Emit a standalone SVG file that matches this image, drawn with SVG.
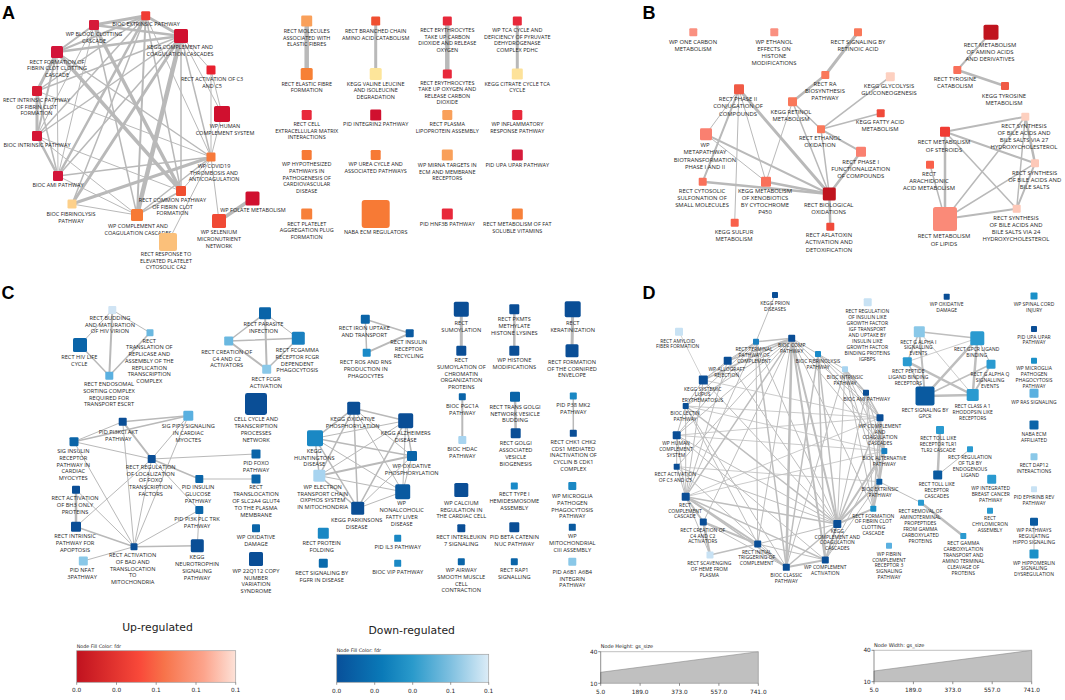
<svg xmlns="http://www.w3.org/2000/svg" width="1065" height="700" viewBox="0 0 1065 700">
<defs>
<style>
.t{font-family:"Open Sans","Liberation Sans",sans-serif;fill:#1e1e1e;text-anchor:middle}
.fa{font-size:5.5px}.fb{font-size:5.9px}.fc{font-size:5.7px}.fd{font-size:5px}
.pl{font-family:"Liberation Sans",Arial,sans-serif;font-weight:bold;font-size:18px;fill:#000}
.lg{font-family:"DejaVu Sans",sans-serif;fill:#222}
.e line{stroke:#b9b9b9;stroke-linecap:round}
.ed line{stroke:#bebebe;stroke-linecap:round}
</style>
<linearGradient id="gu" x1="0" x2="1" y1="0" y2="0">
<stop offset="0" stop-color="#c0121f"/><stop offset="0.4" stop-color="#f94a3a"/><stop offset="0.55" stop-color="#f7734a"/><stop offset="0.8" stop-color="#fca48c"/><stop offset="1" stop-color="#fde2d8"/>
</linearGradient>
<linearGradient id="gd" x1="0" x2="1" y1="0" y2="0">
<stop offset="0" stop-color="#08509a"/><stop offset="0.3" stop-color="#0a7ab8"/><stop offset="0.5" stop-color="#2a9acb"/><stop offset="0.75" stop-color="#7fc0e0"/><stop offset="1" stop-color="#dcecf7"/>
</linearGradient>
</defs>
<rect width="1065" height="700" fill="#fff"/>
<text class="pl" x="2" y="18.5">A</text>
<text class="pl" x="642.5" y="18.5">B</text>
<text class="pl" x="1.5" y="298.5">C</text>
<text class="pl" x="642.5" y="298.5">D</text>

<g id="edges-A" class="e">
<line x1="145.7" y1="15.7" x2="94" y2="25" stroke-width="3"/>
<line x1="145.7" y1="15.7" x2="181" y2="36" stroke-width="3"/>
<line x1="145.7" y1="15.7" x2="57" y2="52" stroke-width="2"/>
<line x1="145.7" y1="15.7" x2="37" y2="91" stroke-width="1.5"/>
<line x1="145.7" y1="15.7" x2="37" y2="136" stroke-width="1.5"/>
<line x1="145.7" y1="15.7" x2="58" y2="176" stroke-width="2.5"/>
<line x1="145.7" y1="15.7" x2="72" y2="204" stroke-width="1.5"/>
<line x1="145.7" y1="15.7" x2="137" y2="215" stroke-width="2"/>
<line x1="145.7" y1="15.7" x2="181" y2="191" stroke-width="1.5"/>
<line x1="145.7" y1="15.7" x2="211" y2="157" stroke-width="1"/>
<line x1="94" y1="25" x2="181" y2="36" stroke-width="2.5"/>
<line x1="94" y1="25" x2="57" y2="52" stroke-width="2"/>
<line x1="94" y1="25" x2="181" y2="191" stroke-width="3.5"/>
<line x1="94" y1="25" x2="137" y2="215" stroke-width="1.5"/>
<line x1="94" y1="25" x2="58" y2="176" stroke-width="1"/>
<line x1="94" y1="25" x2="37" y2="136" stroke-width="1"/>
<line x1="181" y1="36" x2="57" y2="52" stroke-width="2.5"/>
<line x1="181" y1="36" x2="211" y2="70" stroke-width="1"/>
<line x1="181" y1="36" x2="222" y2="114" stroke-width="1"/>
<line x1="181" y1="36" x2="211" y2="157" stroke-width="1.5"/>
<line x1="181" y1="36" x2="137" y2="215" stroke-width="4.5"/>
<line x1="181" y1="36" x2="72" y2="204" stroke-width="3"/>
<line x1="181" y1="36" x2="58" y2="176" stroke-width="1.5"/>
<line x1="181" y1="36" x2="37" y2="91" stroke-width="1.5"/>
<line x1="181" y1="36" x2="37" y2="136" stroke-width="1.5"/>
<line x1="181" y1="36" x2="181" y2="191" stroke-width="1.5"/>
<line x1="57" y1="52" x2="37" y2="91" stroke-width="3"/>
<line x1="57" y1="52" x2="37" y2="136" stroke-width="2"/>
<line x1="57" y1="52" x2="58" y2="176" stroke-width="1"/>
<line x1="57" y1="52" x2="181" y2="191" stroke-width="3.5"/>
<line x1="57" y1="52" x2="211" y2="157" stroke-width="1.5"/>
<line x1="37" y1="91" x2="37" y2="136" stroke-width="3"/>
<line x1="37" y1="91" x2="58" y2="176" stroke-width="1.5"/>
<line x1="37" y1="91" x2="211" y2="157" stroke-width="1"/>
<line x1="37" y1="136" x2="58" y2="176" stroke-width="2.5"/>
<line x1="37" y1="136" x2="137" y2="215" stroke-width="1"/>
<line x1="37" y1="136" x2="181" y2="191" stroke-width="1"/>
<line x1="58" y1="176" x2="211" y2="157" stroke-width="1.5"/>
<line x1="58" y1="176" x2="137" y2="215" stroke-width="1"/>
<line x1="72" y1="204" x2="211" y2="157" stroke-width="3"/>
<line x1="72" y1="204" x2="137" y2="215" stroke-width="1"/>
<line x1="137" y1="215" x2="211" y2="157" stroke-width="1.5"/>
<line x1="137" y1="215" x2="181" y2="191" stroke-width="1.5"/>
<line x1="211" y1="70" x2="211" y2="157" stroke-width="1"/>
<line x1="211" y1="70" x2="222" y2="114" stroke-width="1"/>
<line x1="222" y1="114" x2="211" y2="157" stroke-width="1"/>
<line x1="211" y1="157" x2="219" y2="221" stroke-width="1"/>
<line x1="211" y1="157" x2="168" y2="242" stroke-width="1"/>
<line x1="181" y1="191" x2="211" y2="157" stroke-width="1"/>
<line x1="252.5" y1="198.5" x2="219" y2="221" stroke-width="3.5"/>
<line x1="306.7" y1="21" x2="306.7" y2="74" stroke-width="4.5"/>
<line x1="375.7" y1="21" x2="375.7" y2="74" stroke-width="3"/>
<line x1="447.3" y1="21" x2="447.3" y2="74" stroke-width="4.5"/>
<line x1="517.3" y1="21" x2="517.3" y2="74" stroke-width="3"/>
</g>

<g id="edges-B" class="e">
<line x1="858" y1="32.3" x2="825.3" y2="75" stroke-width="3"/>
<line x1="825.3" y1="75" x2="792.5" y2="101.7" stroke-width="2.5"/>
<line x1="792.5" y1="101.7" x2="821" y2="129.3" stroke-width="1.5"/>
<line x1="792.5" y1="101.7" x2="829.3" y2="194" stroke-width="1.5"/>
<line x1="792.5" y1="101.7" x2="766" y2="181.7" stroke-width="1"/>
<line x1="821" y1="129.3" x2="890.3" y2="76.7" stroke-width="1.5"/>
<line x1="821" y1="129.3" x2="880.7" y2="113.3" stroke-width="1.5"/>
<line x1="821" y1="129.3" x2="861" y2="151.7" stroke-width="2"/>
<line x1="821" y1="129.3" x2="829.3" y2="194" stroke-width="1.5"/>
<line x1="861" y1="151.7" x2="829.3" y2="194" stroke-width="2.5"/>
<line x1="829.3" y1="194" x2="830.3" y2="226.7" stroke-width="2.5"/>
<line x1="739" y1="89.3" x2="706" y2="134.3" stroke-width="1"/>
<line x1="739" y1="89.3" x2="702.7" y2="181.7" stroke-width="2"/>
<line x1="739" y1="89.3" x2="734.7" y2="222.7" stroke-width="1"/>
<line x1="739" y1="89.3" x2="766" y2="181.7" stroke-width="1"/>
<line x1="739" y1="89.3" x2="829.3" y2="194" stroke-width="3"/>
<line x1="706" y1="134.3" x2="766" y2="181.7" stroke-width="1"/>
<line x1="706" y1="134.3" x2="829.3" y2="194" stroke-width="2"/>
<line x1="702.7" y1="181.7" x2="829.3" y2="194" stroke-width="2.5"/>
<line x1="766" y1="181.7" x2="829.3" y2="194" stroke-width="2.5"/>
<line x1="991" y1="32.3" x2="957.3" y2="70" stroke-width="2"/>
<line x1="957.3" y1="70" x2="1005" y2="86" stroke-width="2.5"/>
<line x1="945" y1="131.7" x2="1025.3" y2="116.7" stroke-width="2"/>
<line x1="945" y1="131.7" x2="1035" y2="163.3" stroke-width="2"/>
<line x1="945" y1="131.7" x2="1016.7" y2="208.7" stroke-width="1.5"/>
<line x1="945" y1="131.7" x2="945" y2="219" stroke-width="2.5"/>
<line x1="945" y1="219" x2="930" y2="164.7" stroke-width="1.5"/>
<line x1="945" y1="219" x2="1025.3" y2="116.7" stroke-width="1.5"/>
<line x1="945" y1="219" x2="1035" y2="163.3" stroke-width="1.5"/>
<line x1="945" y1="219" x2="1016.7" y2="208.7" stroke-width="2"/>
<line x1="1025.3" y1="116.7" x2="1035" y2="163.3" stroke-width="2.5"/>
<line x1="1025.3" y1="116.7" x2="1016.7" y2="208.7" stroke-width="1.5"/>
<line x1="1035" y1="163.3" x2="1016.7" y2="208.7" stroke-width="2"/>
</g>

<g id="edges-C" class="e">
<line x1="112.3" y1="310" x2="80" y2="345" stroke-width="1"/>
<line x1="112.3" y1="310" x2="150" y2="332.7" stroke-width="1"/>
<line x1="112.3" y1="310" x2="109.3" y2="375.7" stroke-width="2"/>
<line x1="80" y1="345" x2="109.3" y2="375.7" stroke-width="1.5"/>
<line x1="150" y1="332.7" x2="109.3" y2="375.7" stroke-width="1.5"/>
<line x1="228.7" y1="341" x2="265" y2="313.3" stroke-width="1.5"/>
<line x1="228.7" y1="341" x2="298.3" y2="338.3" stroke-width="1.5"/>
<line x1="228.7" y1="341" x2="266.7" y2="369.3" stroke-width="2"/>
<line x1="265" y1="313.3" x2="266.7" y2="369.3" stroke-width="2"/>
<line x1="265" y1="313.3" x2="298.3" y2="338.3" stroke-width="1"/>
<line x1="298.3" y1="338.3" x2="266.7" y2="369.3" stroke-width="1.5"/>
<line x1="365.3" y1="319.3" x2="409.7" y2="333.3" stroke-width="1.5"/>
<line x1="409.7" y1="333.3" x2="366.7" y2="352.7" stroke-width="2"/>
<line x1="365.3" y1="319.3" x2="366.7" y2="352.7" stroke-width="1.5"/>
<line x1="461.3" y1="309.3" x2="461.3" y2="350.7" stroke-width="3"/>
<line x1="514.3" y1="309.3" x2="514.3" y2="350.7" stroke-width="2.5"/>
<line x1="462.3" y1="396.7" x2="462.3" y2="440" stroke-width="2"/>
<line x1="515" y1="396.7" x2="515.7" y2="433.3" stroke-width="2.5"/>
<line x1="572.7" y1="309.3" x2="572" y2="350.7" stroke-width="3"/>
<line x1="573.3" y1="396" x2="573.3" y2="433.3" stroke-width="1.5"/>
<line x1="188.3" y1="415.7" x2="122.7" y2="421.7" stroke-width="1.5"/>
<line x1="188.3" y1="415.7" x2="74" y2="441.7" stroke-width="1.5"/>
<line x1="188.3" y1="415.7" x2="151.7" y2="459" stroke-width="1"/>
<line x1="188.3" y1="415.7" x2="134" y2="546.7" stroke-width="1"/>
<line x1="122.7" y1="421.7" x2="74" y2="441.7" stroke-width="1"/>
<line x1="122.7" y1="421.7" x2="151.7" y2="459" stroke-width="2"/>
<line x1="122.7" y1="421.7" x2="134" y2="546.7" stroke-width="1"/>
<line x1="74" y1="441.7" x2="151.7" y2="459" stroke-width="1"/>
<line x1="74" y1="441.7" x2="134" y2="546.7" stroke-width="1"/>
<line x1="151.7" y1="459" x2="256" y2="454" stroke-width="1"/>
<line x1="151.7" y1="459" x2="199.3" y2="479" stroke-width="1.5"/>
<line x1="151.7" y1="459" x2="134" y2="546.7" stroke-width="1"/>
<line x1="151.7" y1="459" x2="76" y2="526.7" stroke-width="1"/>
<line x1="151.7" y1="459" x2="199.3" y2="510" stroke-width="1"/>
<line x1="199.3" y1="479" x2="256" y2="479" stroke-width="1"/>
<line x1="76" y1="489.7" x2="76" y2="526.7" stroke-width="2.5"/>
<line x1="76" y1="489.7" x2="134" y2="546.7" stroke-width="1"/>
<line x1="76" y1="526.7" x2="134" y2="546.7" stroke-width="1.5"/>
<line x1="134" y1="546.7" x2="197.3" y2="545.7" stroke-width="1.5"/>
<line x1="134" y1="546.7" x2="199.3" y2="510" stroke-width="1"/>
<line x1="134" y1="546.7" x2="83.3" y2="561" stroke-width="1"/>
<line x1="199.3" y1="510" x2="197.3" y2="545.7" stroke-width="1"/>
<line x1="353.7" y1="408.3" x2="405.7" y2="420.7" stroke-width="1.5"/>
<line x1="353.7" y1="408.3" x2="315" y2="438.3" stroke-width="1.5"/>
<line x1="353.7" y1="408.3" x2="412" y2="456" stroke-width="1"/>
<line x1="353.7" y1="408.3" x2="319.3" y2="475.7" stroke-width="1.5"/>
<line x1="353.7" y1="408.3" x2="402.7" y2="491.7" stroke-width="1"/>
<line x1="353.7" y1="408.3" x2="357.7" y2="508.3" stroke-width="1.5"/>
<line x1="405.7" y1="420.7" x2="315" y2="438.3" stroke-width="1"/>
<line x1="405.7" y1="420.7" x2="412" y2="456" stroke-width="1.5"/>
<line x1="405.7" y1="420.7" x2="319.3" y2="475.7" stroke-width="1"/>
<line x1="405.7" y1="420.7" x2="402.7" y2="491.7" stroke-width="1"/>
<line x1="405.7" y1="420.7" x2="357.7" y2="508.3" stroke-width="1.5"/>
<line x1="315" y1="438.3" x2="412" y2="456" stroke-width="1.5"/>
<line x1="315" y1="438.3" x2="319.3" y2="475.7" stroke-width="1.5"/>
<line x1="315" y1="438.3" x2="402.7" y2="491.7" stroke-width="1"/>
<line x1="315" y1="438.3" x2="357.7" y2="508.3" stroke-width="1.5"/>
<line x1="412" y1="456" x2="319.3" y2="475.7" stroke-width="2"/>
<line x1="412" y1="456" x2="402.7" y2="491.7" stroke-width="1"/>
<line x1="412" y1="456" x2="357.7" y2="508.3" stroke-width="1"/>
<line x1="319.3" y1="475.7" x2="402.7" y2="491.7" stroke-width="1"/>
<line x1="319.3" y1="475.7" x2="357.7" y2="508.3" stroke-width="1.5"/>
<line x1="402.7" y1="491.7" x2="357.7" y2="508.3" stroke-width="1"/>
</g>

<g id="edges-D" class="ed">
<line x1="775" y1="295" x2="756" y2="341.7" stroke-width="1"/>
<line x1="679" y1="331.7" x2="703.3" y2="380" stroke-width="0.7"/>
<line x1="756" y1="341.7" x2="791.7" y2="338.3" stroke-width="1.5"/>
<line x1="756" y1="341.7" x2="727.7" y2="360.7" stroke-width="1"/>
<line x1="756" y1="341.7" x2="703.3" y2="380" stroke-width="1"/>
<line x1="756" y1="341.7" x2="685.7" y2="406" stroke-width="1"/>
<line x1="756" y1="341.7" x2="676.7" y2="435.3" stroke-width="1"/>
<line x1="756" y1="341.7" x2="685.7" y2="496.7" stroke-width="1"/>
<line x1="756" y1="341.7" x2="757.7" y2="544" stroke-width="1"/>
<line x1="756" y1="341.7" x2="786.3" y2="567.3" stroke-width="1.5"/>
<line x1="756" y1="341.7" x2="837.3" y2="524" stroke-width="1"/>
<line x1="791.7" y1="338.3" x2="727.7" y2="360.7" stroke-width="1.5"/>
<line x1="791.7" y1="338.3" x2="703.3" y2="380" stroke-width="1.5"/>
<line x1="791.7" y1="338.3" x2="685.7" y2="406" stroke-width="1"/>
<line x1="791.7" y1="338.3" x2="676.7" y2="435.3" stroke-width="1"/>
<line x1="791.7" y1="338.3" x2="676.7" y2="466.7" stroke-width="1"/>
<line x1="791.7" y1="338.3" x2="685.7" y2="496.7" stroke-width="1.5"/>
<line x1="791.7" y1="338.3" x2="703.3" y2="522" stroke-width="1"/>
<line x1="791.7" y1="338.3" x2="757.7" y2="544" stroke-width="1"/>
<line x1="791.7" y1="338.3" x2="786.3" y2="567.3" stroke-width="2.5"/>
<line x1="791.7" y1="338.3" x2="825.3" y2="560" stroke-width="2"/>
<line x1="791.7" y1="338.3" x2="837.3" y2="524" stroke-width="2"/>
<line x1="791.7" y1="338.3" x2="884.3" y2="451" stroke-width="1"/>
<line x1="791.7" y1="338.3" x2="880" y2="417.7" stroke-width="1"/>
<line x1="791.7" y1="338.3" x2="873.3" y2="508.7" stroke-width="1"/>
<line x1="791.7" y1="338.3" x2="818" y2="354" stroke-width="1"/>
<line x1="727.7" y1="360.7" x2="703.3" y2="380" stroke-width="1"/>
<line x1="727.7" y1="360.7" x2="685.7" y2="496.7" stroke-width="1"/>
<line x1="727.7" y1="360.7" x2="837.3" y2="524" stroke-width="1"/>
<line x1="703.3" y1="380" x2="685.7" y2="406" stroke-width="1"/>
<line x1="703.3" y1="380" x2="685.7" y2="496.7" stroke-width="1"/>
<line x1="703.3" y1="380" x2="880" y2="417.7" stroke-width="0.8"/>
<line x1="703.3" y1="380" x2="837.3" y2="524" stroke-width="1"/>
<line x1="685.7" y1="406" x2="676.7" y2="435.3" stroke-width="1"/>
<line x1="685.7" y1="406" x2="685.7" y2="496.7" stroke-width="1"/>
<line x1="685.7" y1="406" x2="757.7" y2="544" stroke-width="1"/>
<line x1="685.7" y1="406" x2="837.3" y2="524" stroke-width="1.5"/>
<line x1="685.7" y1="406" x2="786.3" y2="567.3" stroke-width="1"/>
<line x1="685.7" y1="406" x2="880" y2="417.7" stroke-width="0.8"/>
<line x1="685.7" y1="406" x2="884.3" y2="451" stroke-width="0.8"/>
<line x1="676.7" y1="435.3" x2="676.7" y2="466.7" stroke-width="1"/>
<line x1="676.7" y1="435.3" x2="685.7" y2="496.7" stroke-width="1"/>
<line x1="676.7" y1="435.3" x2="837.3" y2="524" stroke-width="1"/>
<line x1="676.7" y1="435.3" x2="880" y2="417.7" stroke-width="0.8"/>
<line x1="676.7" y1="435.3" x2="884.3" y2="451" stroke-width="0.8"/>
<line x1="676.7" y1="435.3" x2="825.3" y2="560" stroke-width="1"/>
<line x1="676.7" y1="466.7" x2="685.7" y2="496.7" stroke-width="1"/>
<line x1="676.7" y1="466.7" x2="786.3" y2="567.3" stroke-width="1"/>
<line x1="676.7" y1="466.7" x2="837.3" y2="524" stroke-width="1"/>
<line x1="676.7" y1="466.7" x2="879.3" y2="481.7" stroke-width="0.8"/>
<line x1="685.7" y1="496.7" x2="703.3" y2="522" stroke-width="2"/>
<line x1="685.7" y1="496.7" x2="757.7" y2="544" stroke-width="2"/>
<line x1="685.7" y1="496.7" x2="786.3" y2="567.3" stroke-width="1.5"/>
<line x1="685.7" y1="496.7" x2="825.3" y2="560" stroke-width="1.5"/>
<line x1="685.7" y1="496.7" x2="837.3" y2="524" stroke-width="1.5"/>
<line x1="685.7" y1="496.7" x2="710" y2="555" stroke-width="1"/>
<line x1="685.7" y1="496.7" x2="880" y2="417.7" stroke-width="0.8"/>
<line x1="685.7" y1="496.7" x2="884.3" y2="451" stroke-width="0.8"/>
<line x1="703.3" y1="522" x2="757.7" y2="544" stroke-width="2"/>
<line x1="703.3" y1="522" x2="710" y2="555" stroke-width="2.5"/>
<line x1="703.3" y1="522" x2="786.3" y2="567.3" stroke-width="1"/>
<line x1="710" y1="555" x2="757.7" y2="544" stroke-width="1.5"/>
<line x1="757.7" y1="544" x2="786.3" y2="567.3" stroke-width="1"/>
<line x1="757.7" y1="544" x2="825.3" y2="560" stroke-width="1"/>
<line x1="757.7" y1="544" x2="837.3" y2="524" stroke-width="1"/>
<line x1="786.3" y1="567.3" x2="825.3" y2="560" stroke-width="2"/>
<line x1="786.3" y1="567.3" x2="837.3" y2="524" stroke-width="1.5"/>
<line x1="786.3" y1="567.3" x2="818" y2="354" stroke-width="1.5"/>
<line x1="786.3" y1="567.3" x2="845" y2="369.3" stroke-width="1"/>
<line x1="825.3" y1="560" x2="837.3" y2="524" stroke-width="2"/>
<line x1="825.3" y1="560" x2="818" y2="354" stroke-width="1.5"/>
<line x1="825.3" y1="560" x2="884.3" y2="451" stroke-width="1"/>
<line x1="825.3" y1="560" x2="879.3" y2="481.7" stroke-width="1"/>
<line x1="837.3" y1="524" x2="818" y2="354" stroke-width="1.5"/>
<line x1="837.3" y1="524" x2="845" y2="369.3" stroke-width="1"/>
<line x1="837.3" y1="524" x2="866" y2="392.7" stroke-width="1"/>
<line x1="837.3" y1="524" x2="880" y2="417.7" stroke-width="1.5"/>
<line x1="837.3" y1="524" x2="884.3" y2="451" stroke-width="2"/>
<line x1="837.3" y1="524" x2="879.3" y2="481.7" stroke-width="2"/>
<line x1="837.3" y1="524" x2="873.3" y2="508.7" stroke-width="2"/>
<line x1="818" y1="354" x2="845" y2="369.3" stroke-width="1"/>
<line x1="818" y1="354" x2="866" y2="392.7" stroke-width="1"/>
<line x1="818" y1="354" x2="880" y2="417.7" stroke-width="1"/>
<line x1="818" y1="354" x2="884.3" y2="451" stroke-width="1"/>
<line x1="845" y1="369.3" x2="866" y2="392.7" stroke-width="1.5"/>
<line x1="845" y1="369.3" x2="880" y2="417.7" stroke-width="1"/>
<line x1="845" y1="369.3" x2="884.3" y2="451" stroke-width="1"/>
<line x1="845" y1="369.3" x2="879.3" y2="481.7" stroke-width="1"/>
<line x1="845" y1="369.3" x2="873.3" y2="508.7" stroke-width="1"/>
<line x1="866" y1="392.7" x2="880" y2="417.7" stroke-width="1.5"/>
<line x1="866" y1="392.7" x2="884.3" y2="451" stroke-width="1"/>
<line x1="866" y1="392.7" x2="879.3" y2="481.7" stroke-width="1"/>
<line x1="866" y1="392.7" x2="873.3" y2="508.7" stroke-width="1"/>
<line x1="880" y1="417.7" x2="884.3" y2="451" stroke-width="2"/>
<line x1="880" y1="417.7" x2="879.3" y2="481.7" stroke-width="1.5"/>
<line x1="880" y1="417.7" x2="873.3" y2="508.7" stroke-width="1.5"/>
<line x1="884.3" y1="451" x2="879.3" y2="481.7" stroke-width="2"/>
<line x1="884.3" y1="451" x2="873.3" y2="508.7" stroke-width="1.5"/>
<line x1="879.3" y1="481.7" x2="873.3" y2="508.7" stroke-width="2"/>
<line x1="879.3" y1="481.7" x2="921" y2="502.7" stroke-width="1"/>
<line x1="921" y1="502.7" x2="963.3" y2="536" stroke-width="2.5"/>
<line x1="940" y1="430" x2="937.7" y2="475" stroke-width="2.5"/>
<line x1="970" y1="449.3" x2="937.7" y2="475" stroke-width="1"/>
<line x1="1034" y1="521.7" x2="1034" y2="554" stroke-width="1"/>
<line x1="919.3" y1="331.7" x2="977.3" y2="338.3" stroke-width="1.5"/>
<line x1="919.3" y1="331.7" x2="907.3" y2="361.7" stroke-width="1.5"/>
<line x1="919.3" y1="331.7" x2="925" y2="396" stroke-width="2"/>
<line x1="919.3" y1="331.7" x2="972.7" y2="395" stroke-width="0.8"/>
<line x1="977.3" y1="338.3" x2="907.3" y2="361.7" stroke-width="0.8"/>
<line x1="977.3" y1="338.3" x2="925" y2="396" stroke-width="2.5"/>
<line x1="977.3" y1="338.3" x2="972.7" y2="395" stroke-width="2.5"/>
<line x1="977.3" y1="338.3" x2="991" y2="364.3" stroke-width="1"/>
<line x1="907.3" y1="361.7" x2="925" y2="396" stroke-width="1.5"/>
<line x1="907.3" y1="361.7" x2="972.7" y2="395" stroke-width="2.5"/>
<line x1="991" y1="364.3" x2="925" y2="396" stroke-width="1.5"/>
<line x1="991" y1="364.3" x2="972.7" y2="395" stroke-width="2"/>
<line x1="925" y1="396" x2="972.7" y2="395" stroke-width="2.5"/>
</g>

<g id="a1"><rect x="141.2" y="11.2" width="9" height="9" rx="1.2" fill="#f03c33"/><text class="t fa" x="146" y="26">BIOC EXTRINSIC PATHWAY</text></g>
<g id="a2"><rect x="89" y="20" width="10" height="10" rx="1.2" fill="#d61a3a"/><text class="t fa" y="36.3"><tspan x="94">WP BLOOD CLOTTING</tspan><tspan x="94" dy="6.6">CASCADE</tspan></text></g>
<g id="a3"><rect x="174" y="29" width="14" height="14" rx="1.5" fill="#d0102f"/><text class="t fa" y="49.3"><tspan x="180">KEGG COMPLEMENT AND</tspan><tspan x="180" dy="6.6">COAGULATION CASCADES</tspan></text></g>
<g id="a4"><rect x="51" y="46" width="12" height="12" rx="1.5" fill="#d3153a"/><text class="t fa" y="63.7"><tspan x="57">RECT FORMATION OF</tspan><tspan x="57" dy="6.6">FIBRIN CLOT CLOTTING</tspan><tspan x="57" dy="6.6">CASCADE</tspan></text></g>
<g id="a5"><rect x="206.5" y="65.5" width="9" height="9" rx="1.2" fill="#e8202e"/><text class="t fa" y="81"><tspan x="212">RECT ACTIVATION OF C3</tspan><tspan x="212" dy="6.6">AND C5</tspan></text></g>
<g id="a6"><rect x="32" y="86" width="10" height="10" rx="1.2" fill="#d81c35"/><text class="t fa" y="102"><tspan x="36.5">RECT INTRINSIC PATHWAY</tspan><tspan x="36.5" dy="6.6">OF FIBRIN CLOT</tspan><tspan x="36.5" dy="6.6">FORMATION</tspan></text></g>
<g id="a7"><rect x="214" y="106" width="16" height="16" rx="1.8" fill="#d0102f"/><text class="t fa" y="128"><tspan x="225">WP HUMAN</tspan><tspan x="225" dy="6.6">COMPLEMENT SYSTEM</tspan></text></g>
<g id="a8"><rect x="32" y="131" width="10" height="10" rx="1.2" fill="#d51535"/><text class="t fa" x="37" y="147.3">BIOC INTRINSIC PATHWAY</text></g>
<g id="a9"><rect x="206.5" y="152.5" width="9" height="9" rx="1.2" fill="#f7793a"/><text class="t fa" y="168"><tspan x="214">WP COVID19</tspan><tspan x="214" dy="6.6">THROMBOSIS AND</tspan><tspan x="214" dy="6.6">ANTICOAGULATION</tspan></text></g>
<g id="a10"><rect x="53" y="171" width="10" height="10" rx="1.2" fill="#d3153a"/><text class="t fa" x="58" y="187">BIOC AMI PATHWAY</text></g>
<g id="a11"><rect x="176" y="186" width="10" height="10" rx="1.2" fill="#f04f30"/><text class="t fa" y="202"><tspan x="172.5">RECT COMMON PATHWAY</tspan><tspan x="172.5" dy="6.6">OF FIBRIN CLOT</tspan><tspan x="172.5" dy="6.6">FORMATION</tspan></text></g>
<g id="a12"><rect x="245.5" y="191.5" width="14" height="14" rx="1.5" fill="#d0102f"/><text class="t fa" x="253" y="212">WP FOLATE METABOLISM</text></g>
<g id="a13"><rect x="67.5" y="199.5" width="9" height="9" rx="1.2" fill="#fdd08a"/><text class="t fa" y="216"><tspan x="71">BIOC FIBRINOLYSIS</tspan><tspan x="71" dy="6.6">PATHWAY</tspan></text></g>
<g id="a14"><rect x="131" y="209" width="12" height="12" rx="1.5" fill="#f77a35"/><text class="t fa" y="228"><tspan x="138">WP COMPLEMENT AND</tspan><tspan x="138" dy="6.6">COAGULATION CASCADES</tspan></text></g>
<g id="a15"><rect x="212" y="214" width="14" height="14" rx="1.5" fill="#f04a35"/><text class="t fa" y="234.3"><tspan x="219">WP SELENIUM</tspan><tspan x="219" dy="6.6">MICRONUTRIENT</tspan><tspan x="219" dy="6.6">NETWORK</tspan></text></g>
<g id="a16"><rect x="159" y="233" width="18" height="18" rx="2" fill="#fbc07a"/><text class="t fa" y="256"><tspan x="166">RECT RESPONSE TO</tspan><tspan x="166" dy="6.6">ELEVATED PLATELET</tspan><tspan x="166" dy="6.6">CYTOSOLIC CA2</tspan></text></g>

<g id="g1"><rect x="301.2" y="15.5" width="11" height="11" rx="1.3" fill="#f9a05a"/><text class="t fa" y="33"><tspan x="306.7">RECT MOLECULES</tspan><tspan x="306.7" dy="6.5">ASSOCIATED WITH</tspan><tspan x="306.7" dy="6.5">ELASTIC FIBRES</tspan></text></g>
<g id="g2"><rect x="371.2" y="16.5" width="9" height="9" rx="1.2" fill="#f04f30"/><text class="t fa" y="33"><tspan x="375.7">RECT BRANCHED CHAIN</tspan><tspan x="375.7" dy="6.5">AMINO ACID CATABOLISM</tspan></text></g>
<g id="g3"><rect x="442.8" y="16.5" width="9" height="9" rx="1.2" fill="#e8283a"/><text class="t fa" y="32"><tspan x="447.3">RECT ERYTHROCYTES</tspan><tspan x="447.3" dy="6.5">TAKE UP CARBON</tspan><tspan x="447.3" dy="6.5">DIOXIDE AND RELEASE</tspan><tspan x="447.3" dy="6.5">OXYGEN</tspan></text></g>
<g id="g4"><rect x="512.8" y="16.5" width="9" height="9" rx="1.2" fill="#e8283a"/><text class="t fa" y="32"><tspan x="517.3">WP TCA CYCLE AND</tspan><tspan x="517.3" dy="6.5">DEFICIENCY OF PYRUVATE</tspan><tspan x="517.3" dy="6.5">DEHYDROGENASE</tspan><tspan x="517.3" dy="6.5">COMPLEX PDHC</tspan></text></g>
<g id="g5"><rect x="300.7" y="68" width="12" height="12" rx="1.5" fill="#f78035"/><text class="t fa" y="85.5"><tspan x="306.7">RECT ELASTIC FIBRE</tspan><tspan x="306.7" dy="6.5">FORMATION</tspan></text></g>
<g id="g6"><rect x="369.7" y="68" width="12" height="12" rx="1.5" fill="#fde59a"/><text class="t fa" y="85.5"><tspan x="375.7">KEGG VALINE LEUCINE</tspan><tspan x="375.7" dy="6.5">AND ISOLEUCINE</tspan><tspan x="375.7" dy="6.5">DEGRADATION</tspan></text></g>
<g id="g7"><rect x="442.8" y="69.5" width="9" height="9" rx="1.2" fill="#e8283a"/><text class="t fa" y="84.5"><tspan x="447.3">RECT ERYTHROCYTES</tspan><tspan x="447.3" dy="6.5">TAKE UP OXYGEN AND</tspan><tspan x="447.3" dy="6.5">RELEASE CARBON</tspan><tspan x="447.3" dy="6.5">DIOXIDE</tspan></text></g>
<g id="g8"><rect x="511.8" y="68.5" width="11" height="11" rx="1.3" fill="#fde29a"/><text class="t fa" y="85.5"><tspan x="517.3">KEGG CITRATE CYCLE TCA</tspan><tspan x="517.3" dy="6.5">CYCLE</tspan></text></g>
<g id="g9"><rect x="301.7" y="110" width="10" height="10" rx="1.2" fill="#e8283a"/><text class="t fa" y="126"><tspan x="306.7">RECT CELL</tspan><tspan x="306.7" dy="6.5">EXTRACELLULAR MATRIX</tspan><tspan x="306.7" dy="6.5">INTERACTIONS</tspan></text></g>
<g id="g10"><rect x="370.2" y="109.5" width="11" height="11" rx="1.3" fill="#d0102f"/><text class="t fa" x="375.7" y="126">PID INTEGRIN2 PATHWAY</text></g>
<g id="g11"><rect x="442.3" y="110" width="10" height="10" rx="1.2" fill="#f9a05a"/><text class="t fa" y="126"><tspan x="447.3">RECT PLASMA</tspan><tspan x="447.3" dy="6.5">LIPOPROTEIN ASSEMBLY</tspan></text></g>
<g id="g12"><rect x="512.3" y="110" width="10" height="10" rx="1.2" fill="#e8283a"/><text class="t fa" y="126"><tspan x="517.3">WP INFLAMMATORY</tspan><tspan x="517.3" dy="6.5">RESPONSE PATHWAY</tspan></text></g>
<g id="g13"><rect x="301.7" y="150" width="10" height="10" rx="1.2" fill="#f77a35"/><text class="t fa" y="166.3"><tspan x="306.7">WP HYPOTHESIZED</tspan><tspan x="306.7" dy="6.6">PATHWAYS IN</tspan><tspan x="306.7" dy="6.6">PATHOGENESIS OF</tspan><tspan x="306.7" dy="6.6">CARDIOVASCULAR</tspan><tspan x="306.7" dy="6.6">DISEASE</tspan></text></g>
<g id="g14"><rect x="370.7" y="150" width="10" height="10" rx="1.2" fill="#f77a35"/><text class="t fa" y="166.3"><tspan x="375.7">WP UREA CYCLE AND</tspan><tspan x="375.7" dy="6.6">ASSOCIATED PATHWAYS</tspan></text></g>
<g id="g15"><rect x="441.8" y="149.5" width="11" height="11" rx="1.3" fill="#f9a05a"/><text class="t fa" y="167"><tspan x="447.3">WP MIRNA TARGETS IN</tspan><tspan x="447.3" dy="6.6">ECM AND MEMBRANE</tspan><tspan x="447.3" dy="6.6">RECEPTORS</tspan></text></g>
<g id="g16"><rect x="511.8" y="149.5" width="11" height="11" rx="1.3" fill="#d61a3a"/><text class="t fa" x="517.3" y="167">PID UPA UPAR PATHWAY</text></g>
<g id="g17"><rect x="301.2" y="208.5" width="11" height="11" rx="1.3" fill="#f7803a"/><text class="t fa" y="225.7"><tspan x="306.7">RECT PLATELET</tspan><tspan x="306.7" dy="6.6">AGGREGATION PLUG</tspan><tspan x="306.7" dy="6.6">FORMATION</tspan></text></g>
<g id="g18"><rect x="361.7" y="200" width="28" height="28" rx="3" fill="#f77a35"/><text class="t fa" x="375.7" y="234">NABA ECM REGULATORS</text></g>
<g id="g19"><rect x="441.8" y="208.5" width="11" height="11" rx="1.3" fill="#e8283a"/><text class="t fa" x="447.3" y="226">PID HNF3B PATHWAY</text></g>
<g id="g20"><rect x="511.8" y="208.5" width="11" height="11" rx="1.3" fill="#f7803a"/><text class="t fa" y="226"><tspan x="517.3">RECT METABOLISM OF FAT</tspan><tspan x="517.3" dy="6.6">SOLUBLE VITAMINS</tspan></text></g>

<g id="b1"><rect x="689.3" y="28.3" width="8" height="8" rx="1" fill="#fa9080"/><text class="t fb" y="43.7"><tspan x="693">WP ONE CARBON</tspan><tspan x="693" dy="7.1">METABOLISM</tspan></text></g>
<g id="b2"><rect x="770.3" y="28.3" width="8" height="8" rx="1" fill="#fa9080"/><text class="t fb" y="44"><tspan x="774">WP ETHANOL</tspan><tspan x="774" dy="7.1">EFFECTS ON</tspan><tspan x="774" dy="7.1">HISTONE</tspan><tspan x="774" dy="7.1">MODIFICATIONS</tspan></text></g>
<g id="b3"><rect x="734" y="84.3" width="10" height="10" rx="1.2" fill="#f05a45"/><text class="t fb" y="101.3"><tspan x="738">RECT PHASE II</tspan><tspan x="738" dy="7.1">CONJUGATION OF</tspan><tspan x="738" dy="7.1">COMPOUNDS</tspan></text></g>
<g id="b4"><rect x="788" y="97.2" width="9" height="9" rx="1.1" fill="#f9785a"/><text class="t fb" y="114"><tspan x="791">KEGG RETINOL</tspan><tspan x="791" dy="7.1">METABOLISM</tspan></text></g>
<g id="b5"><rect x="821.3" y="71" width="8" height="8" rx="1" fill="#f9785a"/><text class="t fb" y="86"><tspan x="825">RECT RA</tspan><tspan x="825" dy="7.1">BIOSYNTHESIS</tspan><tspan x="825" dy="7.1">PATHWAY</tspan></text></g>
<g id="b6"><rect x="854" y="28.3" width="8" height="8" rx="1" fill="#f9785a"/><text class="t fb" y="43.7"><tspan x="858">RECT SIGNALING BY</tspan><tspan x="858" dy="7.1">RETINOIC ACID</tspan></text></g>
<g id="b7"><rect x="885.8" y="72.2" width="9" height="9" rx="1.1" fill="#fdd0c0"/><text class="t fb" y="88.3"><tspan x="889">KEGG GLYCOLYSIS</tspan><tspan x="889" dy="7.1">GLUCONEOGENESIS</tspan></text></g>
<g id="b8"><rect x="876.7" y="109.3" width="8" height="8" rx="1" fill="#f04a3a"/><text class="t fb" y="124.3"><tspan x="880">KEGG FATTY ACID</tspan><tspan x="880" dy="7.1">METABOLISM</tspan></text></g>
<g id="b9"><rect x="817" y="125.3" width="8" height="8" rx="1" fill="#f9785a"/><text class="t fb" y="140.3"><tspan x="820">RECT ETHANOL</tspan><tspan x="820" dy="7.1">OXIDATION</tspan></text></g>
<g id="b10"><rect x="700" y="128.3" width="12" height="12" rx="1.4" fill="#fa8070"/><text class="t fb" y="147.3"><tspan x="705">WP</tspan><tspan x="705" dy="7.1">METAPATHWAY</tspan><tspan x="705" dy="7.1">BIOTRANSFORMATION</tspan><tspan x="705" dy="7.1">PHASE I AND II</tspan></text></g>
<g id="b11"><rect x="856" y="146.7" width="10" height="10" rx="1.2" fill="#fa8070"/><text class="t fb" y="163.7"><tspan x="860.7">RECT PHASE I</tspan><tspan x="860.7" dy="7.1">FUNCTIONALIZATION</tspan><tspan x="860.7" dy="7.1">OF COMPOUNDS</tspan></text></g>
<g id="b12"><rect x="698.7" y="177.7" width="8" height="8" rx="1" fill="#f9705a"/><text class="t fb" y="193"><tspan x="702">RECT CYTOSOLIC</tspan><tspan x="702" dy="7.1">SULFONATION OF</tspan><tspan x="702" dy="7.1">SMALL MOLECULES</tspan></text></g>
<g id="b13"><rect x="761" y="176.7" width="10" height="10" rx="1.2" fill="#f9705a"/><text class="t fb" y="193"><tspan x="765">KEGG METABOLISM</tspan><tspan x="765" dy="7.1">OF XENOBIOTICS</tspan><tspan x="765" dy="7.1">BY CYTOCHROME</tspan><tspan x="765" dy="7.1">P450</tspan></text></g>
<g id="b14"><rect x="822.8" y="187.5" width="13" height="13" rx="1.5" fill="#c0141e"/><text class="t fb" y="207"><tspan x="828.7">RECT BIOLOGICAL</tspan><tspan x="828.7" dy="7.1">OXIDATIONS</tspan></text></g>
<g id="b15"><rect x="730.7" y="218.7" width="8" height="8" rx="1" fill="#f9604a"/><text class="t fb" y="233.7"><tspan x="734">KEGG SULFUR</tspan><tspan x="734" dy="7.1">METABOLISM</tspan></text></g>
<g id="b16"><rect x="826.3" y="222.7" width="8" height="8" rx="1" fill="#f04a3a"/><text class="t fb" y="237.3"><tspan x="829">RECT AFLATOXIN</tspan><tspan x="829" dy="7.1">ACTIVATION AND</tspan><tspan x="829" dy="7.1">DETOXIFICATION</tspan></text></g>
<g id="b17"><rect x="983.5" y="24.8" width="15" height="15" rx="1.8" fill="#c0141e"/><text class="t fb" y="47"><tspan x="990">RECT METABOLISM</tspan><tspan x="990" dy="7.2">OF AMINO ACIDS</tspan><tspan x="990" dy="7.2">AND DERIVATIVES</tspan></text></g>
<g id="b18"><rect x="953.3" y="66" width="8" height="8" rx="1" fill="#f9705a"/><text class="t fb" y="81"><tspan x="955">RECT TYROSINE</tspan><tspan x="955" dy="7.1">CATABOLISM</tspan></text></g>
<g id="b19"><rect x="1001" y="82" width="8" height="8" rx="1" fill="#f05a45"/><text class="t fb" y="97.7"><tspan x="1004">KEGG TYROSINE</tspan><tspan x="1004" dy="7.1">METABOLISM</tspan></text></g>
<g id="b20"><rect x="940" y="126.7" width="10" height="10" rx="1.2" fill="#f03c33"/><text class="t fb" y="144.3"><tspan x="944">RECT METABOLISM</tspan><tspan x="944" dy="7.2">OF STEROIDS</tspan></text></g>
<g id="b21"><rect x="1021.3" y="112.7" width="8" height="8" rx="1" fill="#fdd0c0"/><text class="t fb" y="127.7"><tspan x="1024">RECT SYNTHESIS</tspan><tspan x="1024" dy="7.1">OF BILE ACIDS AND</tspan><tspan x="1024" dy="7.1">BILE SALTS VIA 27</tspan><tspan x="1024" dy="7.1">HYDROXYCHOLESTEROL</tspan></text></g>
<g id="b22"><rect x="926" y="160.7" width="8" height="8" rx="1" fill="#f9604a"/><text class="t fb" y="176"><tspan x="929">RECT</tspan><tspan x="929" dy="7.1">ARACHIDONIC</tspan><tspan x="929" dy="7.1">ACID METABOLISM</tspan></text></g>
<g id="b23"><rect x="1031" y="159.3" width="8" height="8" rx="1" fill="#fdc8b8"/><text class="t fb" y="174.7"><tspan x="1034.7">RECT SYNTHESIS</tspan><tspan x="1034.7" dy="7.1">OF BILE ACIDS AND</tspan><tspan x="1034.7" dy="7.1">BILE SALTS</tspan></text></g>
<g id="b24"><rect x="933" y="207" width="24" height="24" rx="2.6" fill="#fa8a78"/><text class="t fb" y="238.3"><tspan x="944">RECT METABOLISM</tspan><tspan x="944" dy="7.2">OF LIPIDS</tspan></text></g>
<g id="b25"><rect x="1012.7" y="204.7" width="8" height="8" rx="1" fill="#fdc8b8"/><text class="t fb" y="219.7"><tspan x="1016">RECT SYNTHESIS</tspan><tspan x="1016" dy="7.1">OF BILE ACIDS AND</tspan><tspan x="1016" dy="7.1">BILE SALTS VIA 24</tspan><tspan x="1016" dy="7.1">HYDROXYCHOLESTEROL</tspan></text></g>

<g id="c1"><rect x="108.3" y="306" width="8" height="8" rx="1" fill="#d0e4f4"/><text class="t fc" y="319.7"><tspan x="110">RECT BUDDING</tspan><tspan x="110" dy="6.8">AND MATURATION</tspan><tspan x="110" dy="6.8">OF HIV VIRION</tspan></text></g>
<g id="c2"><rect x="73" y="338" width="14" height="14" rx="1.6" fill="#0a64a8"/><text class="t fc" y="358.7"><tspan x="79.3">RECT HIV LIFE</tspan><tspan x="79.3" dy="6.8">CYCLE</tspan></text></g>
<g id="c3"><rect x="146.5" y="329.2" width="7" height="7" rx="0.9" fill="#6ab8e0"/><text class="t fc" y="342.7"><tspan x="149.3">RECT</tspan><tspan x="149.3" dy="6.75">TRANSLATION OF</tspan><tspan x="149.3" dy="6.75">REPLICASE AND</tspan><tspan x="149.3" dy="6.75">ASSEMBLY OF THE</tspan><tspan x="149.3" dy="6.75">REPLICATION</tspan><tspan x="149.3" dy="6.75">TRANSCRIPTION</tspan><tspan x="149.3" dy="6.75">COMPLEX</tspan></text></g>
<g id="c4"><rect x="105.3" y="371.7" width="8" height="8" rx="1" fill="#5ab0e0"/><text class="t fc" y="386"><tspan x="109">RECT ENDOSOMAL</tspan><tspan x="109" dy="6.8">SORTING COMPLEX</tspan><tspan x="109" dy="6.8">REQUIRED FOR</tspan><tspan x="109" dy="6.8">TRANSPORT ESCRT</tspan></text></g>
<g id="c5"><rect x="259" y="307.3" width="12" height="12" rx="1.4" fill="#0a64a8"/><text class="t fc" y="326.3"><tspan x="263.5">RECT PARASITE</tspan><tspan x="263.5" dy="6.8">INFECTION</tspan></text></g>
<g id="c6"><rect x="224.2" y="336.5" width="9" height="9" rx="1.1" fill="#6ab8e0"/><text class="t fc" y="353.7"><tspan x="226.7">RECT CREATION OF</tspan><tspan x="226.7" dy="6.8">C4 AND C2</tspan><tspan x="226.7" dy="6.8">ACTIVATORS</tspan></text></g>
<g id="c7"><rect x="291.8" y="331.8" width="13" height="13" rx="1.5" fill="#1a80c0"/><text class="t fc" y="352"><tspan x="297.3">RECT FCGAMMA</tspan><tspan x="297.3" dy="6.8">RECEPTOR FCGR</tspan><tspan x="297.3" dy="6.8">DEPENDENT</tspan><tspan x="297.3" dy="6.8">PHAGOCYTOSIS</tspan></text></g>
<g id="c8"><rect x="262.2" y="364.8" width="9" height="9" rx="1.1" fill="#8ac8e8"/><text class="t fc" y="381"><tspan x="266">RECT FCGR</tspan><tspan x="266" dy="6.8">ACTIVATION</tspan></text></g>
<g id="c9"><rect x="245" y="393" width="22" height="22" rx="2.4" fill="#0a4e96"/><text class="t fc" y="421.3"><tspan x="256">CELL CYCLE AND</tspan><tspan x="256" dy="6.8">TRANSCRIPTION</tspan><tspan x="256" dy="6.8">PROCESSES</tspan><tspan x="256" dy="6.8">NETWORK</tspan></text></g>
<g id="c10"><rect x="118.7" y="417.7" width="8" height="8" rx="1" fill="#0a4e96"/><text class="t fc" y="433.7"><tspan x="118.3">PID PI3KCI AKT</tspan><tspan x="118.3" dy="6.8">PATHWAY</tspan></text></g>
<g id="c11"><rect x="183.3" y="410.7" width="10" height="10" rx="1.2" fill="#5ab0e0"/><text class="t fc" y="428"><tspan x="188.3">SIG PIP3 SIGNALING</tspan><tspan x="188.3" dy="6.8">IN CARDIAC</tspan><tspan x="188.3" dy="6.8">MYOCTES</tspan></text></g>
<g id="c12"><rect x="69.5" y="437.2" width="9" height="9" rx="1.1" fill="#0a64a8"/><text class="t fc" y="453"><tspan x="73.3">SIG INSULIN</tspan><tspan x="73.3" dy="6.8">RECEPTOR</tspan><tspan x="73.3" dy="6.8">PATHWAY IN</tspan><tspan x="73.3" dy="6.8">CARDIAC</tspan><tspan x="73.3" dy="6.8">MYOCYTES</tspan></text></g>
<g id="c13"><rect x="147.7" y="455" width="8" height="8" rx="1" fill="#0a4e96"/><text class="t fc" y="468.7"><tspan x="150.7">RECT REGULATION</tspan><tspan x="150.7" dy="6.8">OF LOCALIZATION</tspan><tspan x="150.7" dy="6.8">OF FOXO</tspan><tspan x="150.7" dy="6.8">TRANSCRIPTION</tspan><tspan x="150.7" dy="6.8">FACTORS</tspan></text></g>
<g id="c14"><rect x="251.5" y="449.5" width="9" height="9" rx="1.1" fill="#0a64a8"/><text class="t fc" y="465.3"><tspan x="256">PID FOXO</tspan><tspan x="256" dy="6.8">PATHWAY</tspan></text></g>
<g id="c15"><rect x="195.3" y="475" width="8" height="8" rx="1" fill="#0a64a8"/><text class="t fc" y="489.3"><tspan x="198">PID INSULIN</tspan><tspan x="198" dy="6.8">GLUCOSE</tspan><tspan x="198" dy="6.8">PATHWAY</tspan></text></g>
<g id="c16"><rect x="72" y="485.7" width="8" height="8" rx="1" fill="#0a4e96"/><text class="t fc" y="500.3"><tspan x="75">RECT ACTIVATION</tspan><tspan x="75" dy="6.8">OF BH3 ONLY</tspan><tspan x="75" dy="6.8">PROTEINS</tspan></text></g>
<g id="c17"><rect x="251.5" y="474.5" width="9" height="9" rx="1.1" fill="#0a64a8"/><text class="t fc" y="489.3"><tspan x="256">RECT</tspan><tspan x="256" dy="6.8">TRANSLOCATION</tspan><tspan x="256" dy="6.8">OF SLC2A4 GLUT4</tspan><tspan x="256" dy="6.8">TO THE PLASMA</tspan><tspan x="256" dy="6.8">MEMBRANE</tspan></text></g>
<g id="c18"><rect x="195.3" y="506" width="8" height="8" rx="1" fill="#0a64a8"/><text class="t fc" y="521.3"><tspan x="197">PID PI3K PLC TRK</tspan><tspan x="197" dy="6.8">PATHWAY</tspan></text></g>
<g id="c19"><rect x="252" y="524.3" width="8" height="8" rx="1" fill="#0a64a8"/><text class="t fc" y="539.3"><tspan x="256">WP OXIDATIVE</tspan><tspan x="256" dy="6.8">DAMAGE</tspan></text></g>
<g id="c20"><rect x="71" y="521.7" width="10" height="10" rx="1.2" fill="#0a4e96"/><text class="t fc" y="538"><tspan x="75">RECT INTRINSIC</tspan><tspan x="75" dy="6.8">PATHWAY FOR</tspan><tspan x="75" dy="6.8">APOPTOSIS</tspan></text></g>
<g id="c21"><rect x="130.5" y="543.2" width="7" height="7" rx="0.9" fill="#0a4e96"/><text class="t fc" y="557"><tspan x="132.7">RECT ACTIVATION</tspan><tspan x="132.7" dy="6.8">OF BAD AND</tspan><tspan x="132.7" dy="6.8">TRANSLOCATION</tspan><tspan x="132.7" dy="6.8">TO</tspan><tspan x="132.7" dy="6.8">MITOCHONDRIA</tspan></text></g>
<g id="c22"><rect x="190.8" y="539.2" width="13" height="13" rx="1.5" fill="#0a4e96"/><text class="t fc" y="559.3"><tspan x="197">KEGG</tspan><tspan x="197" dy="6.8">NEUROTROPHIN</tspan><tspan x="197" dy="6.8">SIGNALING</tspan><tspan x="197" dy="6.8">PATHWAY</tspan></text></g>
<g id="c23"><rect x="78.8" y="556.5" width="9" height="9" rx="1.1" fill="#8ac8e8"/><text class="t fc" y="572"><tspan x="82">PID NFAT</tspan><tspan x="82" dy="6.8">3PATHWAY</tspan></text></g>
<g id="c24"><rect x="249" y="552" width="14" height="14" rx="1.6" fill="#0a4e96"/><text class="t fc" y="572.7"><tspan x="256">WP 22Q112 COPY</tspan><tspan x="256" dy="6.8">NUMBER</tspan><tspan x="256" dy="6.8">VARIATION</tspan><tspan x="256" dy="6.8">SYNDROME</tspan></text></g>
<g id="c25"><rect x="360.8" y="314.8" width="9" height="9" rx="1.1" fill="#0a64a8"/><text class="t fc" y="330.3"><tspan x="364.3">RECT IRON UPTAKE</tspan><tspan x="364.3" dy="6.8">AND TRANSPORT</tspan></text></g>
<g id="c26"><rect x="405.7" y="329.3" width="8" height="8" rx="1" fill="#0a5aa0"/><text class="t fc" y="344"><tspan x="408.7">RECT INSULIN</tspan><tspan x="408.7" dy="6.8">RECEPTOR</tspan><tspan x="408.7" dy="6.8">RECYCLING</tspan></text></g>
<g id="c27"><rect x="362.7" y="348.7" width="8" height="8" rx="1" fill="#1a8ac8"/><text class="t fc" y="364.3"><tspan x="365.7">RECT ROS AND RNS</tspan><tspan x="365.7" dy="6.8">PRODUCTION IN</tspan><tspan x="365.7" dy="6.8">PHAGOCYTES</tspan></text></g>
<g id="c28"><rect x="453.8" y="301.8" width="15" height="15" rx="1.7" fill="#0a4e96"/><text class="t fc" y="324.7"><tspan x="461.3">RECT</tspan><tspan x="461.3" dy="6.8">SUMOYLATION</tspan></text></g>
<g id="c29"><rect x="456.3" y="345.7" width="10" height="10" rx="1.2" fill="#0a4e96"/><text class="t fc" y="362"><tspan x="461.3">RECT</tspan><tspan x="461.3" dy="6.8">SUMOYLATION OF</tspan><tspan x="461.3" dy="6.8">CHROMATIN</tspan><tspan x="461.3" dy="6.8">ORGANIZATION</tspan><tspan x="461.3" dy="6.8">PROTEINS</tspan></text></g>
<g id="c30"><rect x="509.3" y="304.3" width="10" height="10" rx="1.2" fill="#0a4e96"/><text class="t fc" y="321"><tspan x="514.3">RECT PKMTS</tspan><tspan x="514.3" dy="6.8">METHYLATE</tspan><tspan x="514.3" dy="6.8">HISTONE LYSINES</tspan></text></g>
<g id="c31"><rect x="509.3" y="345.7" width="10" height="10" rx="1.2" fill="#0a4e96"/><text class="t fc" y="362"><tspan x="514.3">WP HISTONE</tspan><tspan x="514.3" dy="6.8">MODIFICATIONS</tspan></text></g>
<g id="c32"><rect x="458.8" y="393.2" width="7" height="7" rx="0.9" fill="#0a64a8"/><text class="t fc" y="407.7"><tspan x="462.3">BIOC PGC1A</tspan><tspan x="462.3" dy="6.8">PATHWAY</tspan></text></g>
<g id="c33"><rect x="458.3" y="436" width="8" height="8" rx="1" fill="#a8d4f0"/><text class="t fc" y="451"><tspan x="462.3">BIOC HDAC</tspan><tspan x="462.3" dy="6.8">PATHWAY</tspan></text></g>
<g id="c34"><rect x="510" y="391.7" width="10" height="10" rx="1.2" fill="#0a64a8"/><text class="t fc" y="408.7"><tspan x="515">RECT TRANS GOLGI</tspan><tspan x="515" dy="6.8">NETWORK VESICLE</tspan><tspan x="515" dy="6.8">BUDDING</tspan></text></g>
<g id="c35"><rect x="510.7" y="428.3" width="10" height="10" rx="1.2" fill="#0a4e96"/><text class="t fc" y="445.3"><tspan x="515.7">RECT GOLGI</tspan><tspan x="515.7" dy="6.8">ASSOCIATED</tspan><tspan x="515.7" dy="6.8">VESICLE</tspan><tspan x="515.7" dy="6.8">BIOGENESIS</tspan></text></g>
<g id="c36"><rect x="454.3" y="483" width="14" height="14" rx="1.6" fill="#0a4e96"/><text class="t fc" y="504.7"><tspan x="461.3">WP CALCIUM</tspan><tspan x="461.3" dy="6.8">REGULATION IN</tspan><tspan x="461.3" dy="6.8">THE CARDIAC CELL</tspan></text></g>
<g id="c37"><rect x="510.8" y="482.5" width="7" height="7" rx="0.9" fill="#1a8ac8"/><text class="t fc" y="496.3"><tspan x="514.3">RECT TYPE I</tspan><tspan x="514.3" dy="6.8">HEMIDESMOSOME</tspan><tspan x="514.3" dy="6.8">ASSEMBLY</tspan></text></g>
<g id="c38"><rect x="457.3" y="524.3" width="8" height="8" rx="1" fill="#0a4e96"/><text class="t fc" y="539.3"><tspan x="461.3">RECT INTERLEUKIN</tspan><tspan x="461.3" dy="6.8">7 SIGNALING</tspan></text></g>
<g id="c39"><rect x="509.3" y="522.3" width="10" height="10" rx="1.2" fill="#0a4e96"/><text class="t fc" y="539.3"><tspan x="514.3">PID BETA CATENIN</tspan><tspan x="514.3" dy="6.8">NUC PATHWAY</tspan></text></g>
<g id="c40"><rect x="457.8" y="558.2" width="7" height="7" rx="0.9" fill="#0a64a8"/><text class="t fc" y="572"><tspan x="461.3">WP AIRWAY</tspan><tspan x="461.3" dy="6.8">SMOOTH MUSCLE</tspan><tspan x="461.3" dy="6.8">CELL</tspan><tspan x="461.3" dy="6.8">CONTRACTION</tspan></text></g>
<g id="c41"><rect x="510.8" y="558.2" width="7" height="7" rx="0.9" fill="#0a64a8"/><text class="t fc" y="572"><tspan x="514.3">RECT RAP1</tspan><tspan x="514.3" dy="6.8">SIGNALLING</tspan></text></g>
<g id="c42"><rect x="347.2" y="401.8" width="13" height="13" rx="1.5" fill="#0a4e96"/><text class="t fc" y="421.3"><tspan x="352.7">KEGG OXIDATIVE</tspan><tspan x="352.7" dy="6.8">PHOSPHORYLATION</tspan></text></g>
<g id="c43"><rect x="398.2" y="413.2" width="15" height="15" rx="1.7" fill="#0a4e96"/><text class="t fc" y="435.3"><tspan x="405.7">KEGG ALZHEIMERS</tspan><tspan x="405.7" dy="6.8">DISEASE</tspan></text></g>
<g id="c44"><rect x="307" y="430.3" width="16" height="16" rx="1.8" fill="#1a88c4"/><text class="t fc" y="452.7"><tspan x="314.3">KEGG</tspan><tspan x="314.3" dy="6.8">HUNTINGTONS</tspan><tspan x="314.3" dy="6.8">DISEASE</tspan></text></g>
<g id="c45"><rect x="407" y="451" width="10" height="10" rx="1.2" fill="#0a64a8"/><text class="t fc" y="467.7"><tspan x="411.7">WP OXIDATIVE</tspan><tspan x="411.7" dy="6.8">PHOSPHORYLATION</tspan></text></g>
<g id="c46"><rect x="313.3" y="469.7" width="12" height="12" rx="1.4" fill="#a8d4f0"/><text class="t fc" y="488.7"><tspan x="322.7">WP ELECTRON</tspan><tspan x="322.7" dy="6.8">TRANSPORT CHAIN</tspan><tspan x="322.7" dy="6.8">OXPHOS SYSTEM</tspan><tspan x="322.7" dy="6.8">IN MITOCHONDRIA</tspan></text></g>
<g id="c47"><rect x="395.2" y="484.2" width="15" height="15" rx="1.7" fill="#0a5aa0"/><text class="t fc" y="505.3"><tspan x="401.7">WP</tspan><tspan x="401.7" dy="6.8">NONALCOHOLIC</tspan><tspan x="401.7" dy="6.8">FATTY LIVER</tspan><tspan x="401.7" dy="6.8">DISEASE</tspan></text></g>
<g id="c48"><rect x="351.2" y="501.8" width="13" height="13" rx="1.5" fill="#0a4e96"/><text class="t fc" y="522"><tspan x="356.7">KEGG PARKINSONS</tspan><tspan x="356.7" dy="6.8">DISEASE</tspan></text></g>
<g id="c49"><rect x="317.8" y="527.8" width="11" height="11" rx="1.3" fill="#1a88c4"/><text class="t fc" y="545.3"><tspan x="321.7">RECT PROTEIN</tspan><tspan x="321.7" dy="6.8">FOLDING</tspan></text></g>
<g id="c50"><rect x="394.2" y="534.8" width="7" height="7" rx="0.9" fill="#1a88c4"/><text class="t fc" x="397.7" y="548.7">PID IL3 PATHWAY</text></g>
<g id="c51"><rect x="318.8" y="558.8" width="9" height="9" rx="1.1" fill="#0a6aac"/><text class="t fc" y="575.3"><tspan x="321.7">RECT SIGNALING BY</tspan><tspan x="321.7" dy="6.8">FGFR IN DISEASE</tspan></text></g>
<g id="c52"><rect x="394.2" y="559.8" width="7" height="7" rx="0.9" fill="#1a88c4"/><text class="t fc" x="397.7" y="574.3">BIOC VIP PATHWAY</text></g>
<g id="c53"><rect x="564.7" y="301.3" width="16" height="16" rx="1.8" fill="#0a4e96"/><text class="t fc" y="325.3"><tspan x="572.7">RECT</tspan><tspan x="572.7" dy="6.8">KERATINIZATION</tspan></text></g>
<g id="c54"><rect x="565.5" y="344.2" width="13" height="13" rx="1.5" fill="#0a4e96"/><text class="t fc" y="363.7"><tspan x="572">RECT FORMATION</tspan><tspan x="572" dy="6.8">OF THE CORNIFIED</tspan><tspan x="572" dy="6.8">ENVELOPE</tspan></text></g>
<g id="c55"><rect x="569.8" y="392.5" width="7" height="7" rx="0.9" fill="#1a88c4"/><text class="t fc" y="407"><tspan x="573.3">PID P38 MK2</tspan><tspan x="573.3" dy="6.8">PATHWAY</tspan></text></g>
<g id="c56"><rect x="569.8" y="429.8" width="7" height="7" rx="0.9" fill="#0a4e96"/><text class="t fc" y="443.7"><tspan x="573.3">RECT CHK1 CHK2</tspan><tspan x="573.3" dy="6.8">CDS1 MEDIATED</tspan><tspan x="573.3" dy="6.8">INACTIVATION OF</tspan><tspan x="573.3" dy="6.8">CYCLIN B CDK1</tspan><tspan x="573.3" dy="6.8">COMPLEX</tspan></text></g>
<g id="c57"><rect x="568.3" y="482" width="8" height="8" rx="1" fill="#1a88c4"/><text class="t fc" y="498"><tspan x="572.3">WP MICROGLIA</tspan><tspan x="572.3" dy="6.8">PATHOGEN</tspan><tspan x="572.3" dy="6.8">PHAGOCYTOSIS</tspan><tspan x="572.3" dy="6.8">PATHWAY</tspan></text></g>
<g id="c58"><rect x="568.8" y="523.8" width="7" height="7" rx="0.9" fill="#0a5aa0"/><text class="t fc" y="538"><tspan x="572.3">WP</tspan><tspan x="572.3" dy="6.8">MITOCHONDRIAL</tspan><tspan x="572.3" dy="6.8">CIII ASSEMBLY</tspan></text></g>
<g id="c59"><rect x="568.3" y="557.7" width="8" height="8" rx="1" fill="#8ac8e8"/><text class="t fc" y="573.7"><tspan x="572.3">PID A6B1 A6B4</tspan><tspan x="572.3" dy="6.8">INTEGRIN</tspan><tspan x="572.3" dy="6.8">PATHWAY</tspan></text></g>

<g id="d1"><rect x="772" y="292" width="6" height="6" rx="0.8" fill="#0a4e96"/><text class="t fd" y="305.1"><tspan x="775">KEGG PRION</tspan><tspan x="775" dy="5.8">DISEASES</tspan></text></g>
<g id="d2"><rect x="675" y="327.7" width="8" height="8" rx="1" fill="#c8e2f4"/><text class="t fd" y="342.5"><tspan x="677.7">RECT AMYLOID</tspan><tspan x="677.7" dy="5.8">FIBER FORMATION</tspan></text></g>
<g id="d3"><rect x="753" y="338.7" width="6" height="6" rx="0.8" fill="#1a80c0"/><text class="t fd" y="351.1"><tspan x="754">RECT TERMINAL</tspan><tspan x="754" dy="5.8">PATHWAY OF</tspan><tspan x="754" dy="5.8">COMPLEMENT</tspan></text></g>
<g id="d4"><rect x="788.2" y="334.8" width="7" height="7" rx="0.9" fill="#0a4e96"/><text class="t fd" y="346.8"><tspan x="791.7">BIOC COMP</tspan><tspan x="791.7" dy="5.8">PATHWAY</tspan></text></g>
<g id="d5"><rect x="723.7" y="356.7" width="8" height="8" rx="1" fill="#0a4e96"/><text class="t fd" y="370.8"><tspan x="726.7">WP ALLOGRAFT</tspan><tspan x="726.7" dy="5.8">REJECTION</tspan></text></g>
<g id="d6"><rect x="698.8" y="375.5" width="9" height="9" rx="1.1" fill="#0a4e96"/><text class="t fd" y="390.5"><tspan x="702.7">KEGG SYSTEMIC</tspan><tspan x="702.7" dy="5.8">LUPUS</tspan><tspan x="702.7" dy="5.8">ERYTHEMATOSUS</tspan></text></g>
<g id="d7"><rect x="682.7" y="403" width="6" height="6" rx="0.8" fill="#0a4e96"/><text class="t fd" y="415.1"><tspan x="685">BIOC LECTIN</tspan><tspan x="685" dy="5.8">PATHWAY</tspan></text></g>
<g id="d8"><rect x="672.7" y="431.3" width="8" height="8" rx="1" fill="#0a4e96"/><text class="t fd" y="445.1"><tspan x="676">WP HUMAN</tspan><tspan x="676" dy="5.8">COMPLEMENT</tspan><tspan x="676" dy="5.8">SYSTEM</tspan></text></g>
<g id="d9"><rect x="673.7" y="463.7" width="6" height="6" rx="0.8" fill="#0a4e96"/><text class="t fd" y="475.8"><tspan x="675.3">RECT ACTIVATION</tspan><tspan x="675.3" dy="5.8">OF C3 AND C5</tspan></text></g>
<g id="d10"><rect x="681.7" y="492.7" width="8" height="8" rx="1" fill="#0a4e96"/><text class="t fd" y="506.8"><tspan x="685">RECT</tspan><tspan x="685" dy="5.8">COMPLEMENT</tspan><tspan x="685" dy="5.8">CASCADE</tspan></text></g>
<g id="d11"><rect x="699.8" y="518.5" width="7" height="7" rx="0.9" fill="#0a4e96"/><text class="t fd" y="531.8"><tspan x="702.7">RECT CREATION OF</tspan><tspan x="702.7" dy="5.8">C4 AND C2</tspan><tspan x="702.7" dy="5.8">ACTIVATORS</tspan></text></g>
<g id="d12"><rect x="706.5" y="551.5" width="7" height="7" rx="0.9" fill="#c8e2f4"/><text class="t fd" y="565.1"><tspan x="709.3">RECT SCAVENGING</tspan><tspan x="709.3" dy="5.8">OF HEME FROM</tspan><tspan x="709.3" dy="5.8">PLASMA</tspan></text></g>
<g id="d13"><rect x="754.2" y="540.5" width="7" height="7" rx="0.9" fill="#0a4e96"/><text class="t fd" y="553.5"><tspan x="756.7">RECT INITIAL</tspan><tspan x="756.7" dy="5.8">TRIGGERING OF</tspan><tspan x="756.7" dy="5.8">COMPLEMENT</tspan></text></g>
<g id="d14"><rect x="782.8" y="563.8" width="7" height="7" rx="0.9" fill="#0a4e96"/><text class="t fd" y="576.8"><tspan x="786.3">BIOC CLASSIC</tspan><tspan x="786.3" dy="5.8">PATHWAY</tspan></text></g>
<g id="d15"><rect x="821.8" y="556.5" width="7" height="7" rx="0.9" fill="#0a4e96"/><text class="t fd" y="569.1"><tspan x="825.3">WP COMPLEMENT</tspan><tspan x="825.3" dy="5.8">ACTIVATION</tspan></text></g>
<g id="d16"><rect x="833.3" y="520" width="8" height="8" rx="1" fill="#0a4e96"/><text class="t fd" y="532.8"><tspan x="837.3">KEGG</tspan><tspan x="837.3" dy="5.8">COMPLEMENT AND</tspan><tspan x="837.3" dy="5.8">COAGULATION</tspan><tspan x="837.3" dy="5.8">CASCADES</tspan></text></g>
<g id="d17"><rect x="815" y="351" width="6" height="6" rx="0.8" fill="#1a8ac8"/><text class="t fd" y="362.8"><tspan x="818">BIOC FIBRINOLYSIS</tspan><tspan x="818" dy="5.8">PATHWAY</tspan></text></g>
<g id="d18"><rect x="842" y="366.3" width="6" height="6" rx="0.8" fill="#a8d4f0"/><text class="t fd" y="378.8"><tspan x="845">BIOC INTRINSIC</tspan><tspan x="845" dy="5.8">PATHWAY</tspan></text></g>
<g id="d19"><rect x="863" y="389.7" width="6" height="6" rx="0.8" fill="#0a4e96"/><text class="t fd" x="866.7" y="401.1">BIOC AMI PATHWAY</text></g>
<g id="d20"><rect x="876.5" y="414.2" width="7" height="7" rx="0.9" fill="#0a4e96"/><text class="t fd" y="427.8"><tspan x="880">WP COMPLEMENT</tspan><tspan x="880" dy="5.8">AND</tspan><tspan x="880" dy="5.8">COAGULATION</tspan><tspan x="880" dy="5.8">CASCADES</tspan></text></g>
<g id="d21"><rect x="881.3" y="448" width="6" height="6" rx="0.8" fill="#1a80c0"/><text class="t fd" y="460.1"><tspan x="884.3">BIOC ALTERNATIVE</tspan><tspan x="884.3" dy="5.8">PATHWAY</tspan></text></g>
<g id="d22"><rect x="876.3" y="478.7" width="6" height="6" rx="0.8" fill="#0a5aa0"/><text class="t fd" y="490.8"><tspan x="880">BIOC EXTRINSIC</tspan><tspan x="880" dy="5.8">PATHWAY</tspan></text></g>
<g id="d23"><rect x="870.3" y="505.7" width="6" height="6" rx="0.8" fill="#1a90c8"/><text class="t fd" y="517.5"><tspan x="873.3">RECT FORMATION</tspan><tspan x="873.3" dy="5.8">OF FIBRIN CLOT</tspan><tspan x="873.3" dy="5.8">CLOTTING</tspan><tspan x="873.3" dy="5.8">CASCADE</tspan></text></g>
<g id="d24"><rect x="886" y="542.7" width="6" height="6" rx="0.8" fill="#5ab0e0"/><text class="t fd" y="555.8"><tspan x="889">WP FIBRIN</tspan><tspan x="889" dy="5.8">COMPLEMENT</tspan><tspan x="889" dy="5.8">RECEPTOR 3</tspan><tspan x="889" dy="5.8">SIGNALING</tspan><tspan x="889" dy="5.8">PATHWAY</tspan></text></g>
<g id="d25"><rect x="863.7" y="298.3" width="8" height="8" rx="1" fill="#c8e2f4"/><text class="t fd" y="312.8"><tspan x="867.3">RECT REGULATION</tspan><tspan x="867.3" dy="6">OF INSULIN LIKE</tspan><tspan x="867.3" dy="6">GROWTH FACTOR</tspan><tspan x="867.3" dy="6">IGF TRANSPORT</tspan><tspan x="867.3" dy="6">AND UPTAKE BY</tspan><tspan x="867.3" dy="6">INSULIN LIKE</tspan><tspan x="867.3" dy="6">GROWTH FACTOR</tspan><tspan x="867.3" dy="6">BINDING PROTEINS</tspan><tspan x="867.3" dy="6">IGFBPS</tspan></text></g>
<g id="d26"><rect x="943.7" y="293.7" width="6" height="6" rx="0.8" fill="#0a4e96"/><text class="t fd" y="306.1"><tspan x="946.7">WP OXIDATIVE</tspan><tspan x="946.7" dy="5.9">DAMAGE</tspan></text></g>
<g id="d27"><rect x="1030.5" y="292.5" width="7" height="7" rx="0.9" fill="#1a90c8"/><text class="t fd" y="306.1"><tspan x="1034">WP SPINAL CORD</tspan><tspan x="1034" dy="5.9">INJURY</tspan></text></g>
<g id="d28"><rect x="1031" y="326" width="6" height="6" rx="0.8" fill="#0a4e96"/><text class="t fd" y="338.5"><tspan x="1034">PID UPA UPAR</tspan><tspan x="1034" dy="5.9">PATHWAY</tspan></text></g>
<g id="d29"><rect x="1031" y="357.7" width="6" height="6" rx="0.8" fill="#1a90c8"/><text class="t fd" y="370.1"><tspan x="1034">WP MICROGLIA</tspan><tspan x="1034" dy="5.9">PATHOGEN</tspan><tspan x="1034" dy="5.9">PHAGOCYTOSIS</tspan><tspan x="1034" dy="5.9">PATHWAY</tspan></text></g>
<g id="d30"><rect x="1029.5" y="388.8" width="9" height="9" rx="1.1" fill="#5ab0e0"/><text class="t fd" x="1034" y="404.1">WP RAS SIGNALING</text></g>
<g id="d31"><rect x="1029.5" y="420.5" width="9" height="9" rx="1.1" fill="#0a64a8"/><text class="t fd" y="435.8"><tspan x="1034">NABA ECM</tspan><tspan x="1034" dy="5.9">AFFILIATED</tspan></text></g>
<g id="d32"><rect x="1030.5" y="453.2" width="7" height="7" rx="0.9" fill="#8ac8e8"/><text class="t fd" y="466.8"><tspan x="1034">RECT DAP12</tspan><tspan x="1034" dy="5.9">INTERACTIONS</tspan></text></g>
<g id="d33"><rect x="1031" y="486.3" width="6" height="6" rx="0.8" fill="#c8e2f4"/><text class="t fd" y="499.1"><tspan x="1034">PID EPHRINB REV</tspan><tspan x="1034" dy="5.9">PATHWAY</tspan></text></g>
<g id="d34"><rect x="1030" y="517.7" width="8" height="8" rx="1" fill="#0a5aa0"/><text class="t fd" y="531.8"><tspan x="1034">WP PATHWAYS</tspan><tspan x="1034" dy="5.9">REGULATING</tspan><tspan x="1034" dy="5.9">HIPPO SIGNALING</tspan></text></g>
<g id="d35"><rect x="1029.5" y="549.5" width="9" height="9" rx="1.1" fill="#1a90c8"/><text class="t fd" y="564.5"><tspan x="1034">WP HIPPOMERLIN</tspan><tspan x="1034" dy="5.9">SIGNALING</tspan><tspan x="1034" dy="5.9">DYSREGULATION</tspan></text></g>
<g id="d36"><rect x="913.8" y="326.2" width="11" height="11" rx="1.3" fill="#8ac8e8"/><text class="t fd" y="343.5"><tspan x="918.3">RECT G ALPHA I</tspan><tspan x="918.3" dy="5.8">SIGNALLING</tspan><tspan x="918.3" dy="5.8">EVENTS</tspan></text></g>
<g id="d37"><rect x="970.3" y="331.3" width="14" height="14" rx="1.6" fill="#2a9ad0"/><text class="t fd" y="351.1"><tspan x="976.7">RECT GPCR LIGAND</tspan><tspan x="976.7" dy="6">BINDING</tspan></text></g>
<g id="d38"><rect x="902.8" y="357.2" width="9" height="9" rx="1.1" fill="#2a9ad0"/><text class="t fd" y="372.5"><tspan x="908.3">RECT PEPTIDE</tspan><tspan x="908.3" dy="6">LIGAND BINDING</tspan><tspan x="908.3" dy="6">RECEPTORS</tspan></text></g>
<g id="d39"><rect x="986.5" y="359.8" width="9" height="9" rx="1.1" fill="#2a9ad0"/><text class="t fd" y="375.8"><tspan x="990">RECT G ALPHA Q</tspan><tspan x="990" dy="6">SIGNALLING</tspan><tspan x="990" dy="6">EVENTS</tspan></text></g>
<g id="d40"><rect x="915.5" y="386.5" width="19" height="19" rx="2.1" fill="#0a5aa0"/><text class="t fd" y="411.8"><tspan x="925">RECT SIGNALING BY</tspan><tspan x="925" dy="6">GPCR</tspan></text></g>
<g id="d41"><rect x="966.7" y="389" width="12" height="12" rx="1.4" fill="#2a9ad0"/><text class="t fd" y="407.8"><tspan x="972.7">RECT CLASS A 1</tspan><tspan x="972.7" dy="6">RHODOPSIN LIKE</tspan><tspan x="972.7" dy="6">RECEPTORS</tspan></text></g>
<g id="d42"><rect x="936" y="426" width="8" height="8" rx="1" fill="#2a9ad0"/><text class="t fd" y="440.1"><tspan x="938.3">RECT TOLL LIKE</tspan><tspan x="938.3" dy="6">RECEPTOR TLR1</tspan><tspan x="938.3" dy="6">TLR2 CASCADE</tspan></text></g>
<g id="d43"><rect x="967" y="446.3" width="6" height="6" rx="0.8" fill="#2a9ad0"/><text class="t fd" y="458.5"><tspan x="970">RECT REGULATION</tspan><tspan x="970" dy="6">OF TLR BY</tspan><tspan x="970" dy="6">ENDOGENOUS</tspan><tspan x="970" dy="6">LIGAND</tspan></text></g>
<g id="d44"><rect x="933.2" y="470.5" width="9" height="9" rx="1.1" fill="#0a5aa0"/><text class="t fd" y="485.8"><tspan x="936.7">RECT TOLL LIKE</tspan><tspan x="936.7" dy="6">RECEPTOR</tspan><tspan x="936.7" dy="6">CASCADES</tspan></text></g>
<g id="d45"><rect x="987.2" y="474.8" width="9" height="9" rx="1.1" fill="#2a9ad0"/><text class="t fd" y="490.1"><tspan x="990.7">WP INTEGRATED</tspan><tspan x="990.7" dy="6">BREAST CANCER</tspan><tspan x="990.7" dy="6">PATHWAY</tspan></text></g>
<g id="d46"><rect x="987" y="507.7" width="6" height="6" rx="0.8" fill="#2a9ad0"/><text class="t fd" y="520.1"><tspan x="990">RECT</tspan><tspan x="990" dy="6">CHYLOMICRON</tspan><tspan x="990" dy="6">ASSEMBLY</tspan></text></g>
<g id="d47"><rect x="918" y="499.7" width="6" height="6" rx="0.8" fill="#2a9ad0"/><text class="t fd" y="512.5"><tspan x="920.3">RECT REMOVAL OF</tspan><tspan x="920.3" dy="6">AMINOTERMINAL</tspan><tspan x="920.3" dy="6">PROPEPTIDES</tspan><tspan x="920.3" dy="6">FROM GAMMA</tspan><tspan x="920.3" dy="6">CARBOXYLATED</tspan><tspan x="920.3" dy="6">PROTEINS</tspan></text></g>
<g id="d48"><rect x="960.3" y="533" width="6" height="6" rx="0.8" fill="#2a9ad0"/><text class="t fd" y="545.1"><tspan x="963.3">RECT GAMMA</tspan><tspan x="963.3" dy="6">CARBOXYLATION</tspan><tspan x="963.3" dy="6">TRANSPORT AND</tspan><tspan x="963.3" dy="6">AMINO TERMINAL</tspan><tspan x="963.3" dy="6">CLEAVAGE OF</tspan><tspan x="963.3" dy="6">PROTEINS</tspan></text></g>

<g id="legend-up">
<text class="lg" x="157.5" y="631" font-size="10.8" text-anchor="middle">Up-regulated</text>
<text class="lg" x="76.7" y="648" font-size="4.8">Node Fill Color:  fdr</text>
<rect x="76.7" y="650.7" width="159" height="31.6" fill="url(#gu)" stroke="#a0a0a0" stroke-width="0.7"/>
<path d="M76.7 682.3v2.5M116.5 682.3v2.5M156.2 682.3v2.5M196 682.3v2.5M235.7 682.3v2.5" stroke="#555" stroke-width="0.6"/>
<g class="lg" font-size="5.8" text-anchor="middle"><text x="76.7" y="692">0.0</text><text x="116.5" y="692">0.0</text><text x="156.2" y="692">0.1</text><text x="196" y="692">0.1</text><text x="235.7" y="692">0.1</text></g>
</g>
<g id="legend-down">
<text class="lg" x="411.7" y="633.5" font-size="10.8" text-anchor="middle">Down-regulated</text>
<text class="lg" x="336.7" y="651.5" font-size="4.8">Node Fill Color:  fdr</text>
<rect x="336.7" y="654.3" width="152" height="28" fill="url(#gd)" stroke="#a0a0a0" stroke-width="0.7"/>
<path d="M336.7 682.3v2.5M374.7 682.3v2.5M412.7 682.3v2.5M450.7 682.3v2.5M488.7 682.3v2.5" stroke="#555" stroke-width="0.6"/>
<g class="lg" font-size="5.8" text-anchor="middle"><text x="336.7" y="693">0.0</text><text x="374.7" y="693">0.0</text><text x="412.7" y="693">0.0</text><text x="450.7" y="693">0.1</text><text x="488.7" y="693">0.1</text></g>
</g>
<g id="legend-height">
<text class="lg" x="600.7" y="647.5" font-size="5">Node Height:  gs_size</text>
<polygon points="600.7,683.3 600.7,672.3 758.3,651.7 758.3,683.3" fill="#c0c0c0" stroke="#8a8a8a" stroke-width="0.6"/>
<path d="M600.7 651.7H758.3" stroke="#b0b0b0" stroke-width="0.8"/>
<path d="M600.7 651.7V683.3M598.2 651.7h2.5M598.2 683.3h2.5M600.7 683.3v2.5M640.1 683.3v2.5M679.5 683.3v2.5M718.9 683.3v2.5M758.3 683.3v2.5" stroke="#444" stroke-width="0.6"/>
<g class="lg" font-size="5.8"><text x="597.5" y="653.7" text-anchor="end">40</text><text x="597.5" y="685.5" text-anchor="end">10</text></g>
<g class="lg" font-size="5.8" text-anchor="middle"><text x="600.7" y="693.5">5.0</text><text x="640.1" y="693.5">189.0</text><text x="679.5" y="693.5">373.0</text><text x="718.9" y="693.5">557.0</text><text x="758.3" y="693.5">741.0</text></g>
</g>
<g id="legend-width">
<text class="lg" x="874" y="646.5" font-size="5">Node Width:  gs_size</text>
<polygon points="874,681.7 874,671 1031.7,650.3 1031.7,681.7" fill="#c0c0c0" stroke="#8a8a8a" stroke-width="0.6"/>
<path d="M874 650.3H1031.7" stroke="#b0b0b0" stroke-width="0.8"/>
<path d="M874 650.3V681.7M871.5 650.3h2.5M871.5 681.7h2.5M874 681.7v2.5M913.4 681.7v2.5M952.8 681.7v2.5M992.2 681.7v2.5M1031.7 681.7v2.5" stroke="#444" stroke-width="0.6"/>
<g class="lg" font-size="5.8"><text x="870.8" y="652.3" text-anchor="end">40</text><text x="870.8" y="683.9" text-anchor="end">10</text></g>
<g class="lg" font-size="5.8" text-anchor="middle"><text x="874" y="692">5.0</text><text x="913.4" y="692">189.0</text><text x="952.8" y="692">373.0</text><text x="992.2" y="692">557.0</text><text x="1031.7" y="692">741.0</text></g>
</g>
</svg>
